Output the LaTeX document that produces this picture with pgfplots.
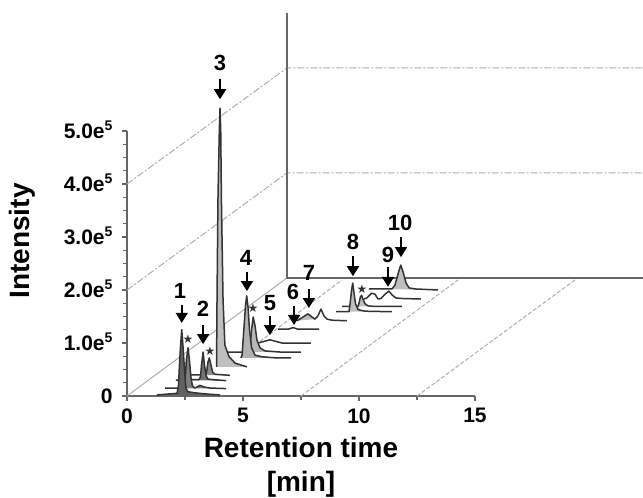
\documentclass[border=0pt]{standalone}
\usepackage{fontspec}
\setmainfont{Liberation Sans}
\newfontfamily\sym{DejaVu Sans}
\usepackage{pgfplots}
\pgfplotsset{compat=1.18}
\usetikzlibrary{arrows.meta}
\definecolor{tr}{gray}{0.2}
\definecolor{wall}{gray}{0.4}
\definecolor{gridc}{gray}{0.68}
\newcommand{\plab}[3]{\node[font=\bfseries\fontsize{22}{22}\selectfont,inner sep=0pt] at (axis cs:#1,#2) {#3};}
\newcommand{\parr}[3]{\draw[line width=1.7pt,black,-{Triangle[width=12pt,length=10pt]}] (axis cs:#1,#2) -- (axis cs:#1,#3);}
\newcommand{\pstar}[2]{\node[font=\sym\fontsize{12}{12}\selectfont,inner sep=0pt,text=black!80] at (axis cs:#1,#2) {★};}
\newcommand{\sfive}{\smash{\raisebox{8pt}{\fontsize{14}{14}\selectfont 5}}}
\begin{document}
\begin{tikzpicture}
\begin{axis}[
  at={(0pt,0pt)}, anchor=south west,
  scale only axis, width=348pt, height=265pt,
  xmin=0, xmax=15, ymin=0, ymax=5,
  clip=false,
  axis lines=left,
  axis line style={-, line width=1.8pt, draw=wall},
  tick style={line width=1.1pt, draw=wall},
  tick align=outside,
  major tick length=5pt, minor tick length=3.5pt,
  xtick={0,5,10,15}, xticklabels={0,5,10,15},
  ytick={0,1,2,3,4,5},
  yticklabels={0,1.0e\sfive,2.0e\sfive,3.0e\sfive,4.0e\sfive,5.0e\sfive},
  minor x tick num=1, minor y tick num=3,
  xticklabel style={font=\bfseries\fontsize{21}{21}\selectfont, yshift=-4pt},
  yticklabel style={font=\bfseries\fontsize{21}{21}\selectfont, xshift=-6pt},
  xlabel={Retention time\\{}[min]},
  xlabel style={at={(axis description cs:0.5,-0.270)}, anchor=center, align=center, font=\bfseries\fontsize{28}{34}\selectfont},
  ylabel={Intensity},
  ylabel style={at={(axis description cs:-0.302,0.585)}, anchor=center, font=\bfseries\fontsize{28}{28}\selectfont},
  trace/.style={draw=tr, line width=1.5pt, line join=round},
  dd/.style={draw=gridc, line width=1pt, dash pattern=on 7pt off 2pt on 2pt off 2pt},
  fd/.style={draw=gridc, line width=1pt, dash pattern=on 4pt off 2pt},
]
% back wall and floor
\addplot[dd] coordinates {(0,4) (6.90,6.19) (22.24,6.19)};
\addplot[dd] coordinates {(0,2) (6.90,4.21) (22.24,4.21)};
\addplot[fd] coordinates {(5.52,0.96) (9.27,2.19)};
\addplot[fd] coordinates {(7.5,0) (14.27,2.19)};
\addplot[fd] coordinates {(12.5,0) (19.31,2.19)};
\addplot[draw=gridc, line width=1pt] coordinates {(0,0) (6.90,2.23)};
\addplot[draw=wall, line width=1.5pt] coordinates {(6.90,7.23) (6.90,2.23) (22.24,2.23)};
% peak 10
\addplot[trace, fill=black!25] coordinates {(10.43,2.02)(11.42,2.02)(11.55,2.09)(11.68,2.30)(11.80,2.47)(11.90,2.34)(12.03,2.13)(12.16,2.04)(12.41,2.02)(13.41,2.00)};
% peak 9
\addplot[trace] coordinates {(10.22,1.83)(10.34,1.85)(10.54,1.94)(10.69,1.92)(10.82,1.83)(10.95,1.84)(11.12,1.92)(11.29,1.98)(11.42,1.91)(11.59,1.85)(11.85,1.84)(12.67,1.83)};
% star after peak 8
\addplot[trace, fill=black!25] coordinates {(9.27,1.69)(9.96,1.69)(10.00,1.75)(10.06,1.87)(10.11,1.90)(10.17,1.83)(10.26,1.74)(10.39,1.70)(10.69,1.69)(11.85,1.69)};
% peak 8
\addplot[trace, fill=black!25] coordinates {(9.01,1.59)(9.57,1.59)(9.61,1.72)(9.68,2.00)(9.73,2.13)(9.78,1.96)(9.85,1.74)(9.96,1.63)(10.26,1.60)(11.42,1.59)};
% peak 7
\addplot[fill=black!25, draw=none] coordinates {(7.33,1.42)(7.59,1.49)(7.80,1.55)(7.97,1.49)(8.10,1.45)};
\addplot[trace] coordinates {(7.33,1.42)(7.59,1.49)(7.80,1.55)(7.97,1.49)(8.10,1.45)(8.23,1.51)(8.36,1.64)(8.49,1.51)(8.62,1.45)(8.84,1.43)(9.48,1.42)};
% peak 6
\addplot[trace] coordinates {(6.51,1.26)(6.94,1.26)(7.16,1.29)(7.37,1.26)(8.28,1.26)};
% peak 5
\addplot[trace] coordinates {(5.65,1.00)(5.91,1.03)(6.16,1.06)(6.42,1.03)(6.68,1.00)(7.93,1.00)};
% star after peak 4
\addplot[trace, fill=black!28] coordinates {(4.35,0.83)(5.26,0.83)(5.30,0.91)(5.37,1.25)(5.44,1.49)(5.52,1.32)(5.60,1.06)(5.73,0.91)(5.95,0.85)(6.59,0.83)(7.50,0.83)};
% peak 4
\addplot[trace, fill=black!30] coordinates {(4.91,0.72)(4.96,0.77)(5.02,1.15)(5.11,1.72)(5.16,1.89)(5.22,1.66)(5.28,1.25)(5.37,0.91)(5.52,0.77)(5.82,0.74)(6.38,0.72)(7.07,0.72)};
% peak 3
\addplot[trace, fill=black!25] coordinates {(3.86,0.55)(3.88,1.81)(3.92,3.70)(3.98,5.02)(4.01,5.43)(4.04,5.02)(4.07,3.70)(4.14,1.81)(4.22,0.96)(4.40,0.74)(4.66,0.62)(5.17,0.55)};
% star after peak 2
\addplot[trace, fill=black!45] coordinates {(2.72,0.40)(3.36,0.40)(3.43,0.45)(3.49,0.64)(3.55,0.72)(3.62,0.58)(3.69,0.45)(3.79,0.41)(4.44,0.39)};
% peak 2
\addplot[trace, fill=black!55] coordinates {(2.11,0.30)(3.10,0.31)(3.17,0.36)(3.21,0.58)(3.28,0.83)(3.34,0.58)(3.41,0.38)(3.49,0.32)(3.66,0.31)(4.27,0.29)};
% star after peak 1
\addplot[trace, fill=black!50] coordinates {(1.64,0.15)(2.37,0.15)(2.48,0.19)(2.52,0.40)(2.56,0.68)(2.63,0.91)(2.69,0.68)(2.76,0.34)(2.82,0.19)(2.93,0.15)(3.15,0.20)(3.32,0.17)(3.58,0.15)(4.27,0.14)};
% peak 1
\addplot[trace, fill=black!62] coordinates {(1.29,0.02)(1.85,0.04)(2.16,0.05)(2.22,0.21)(2.26,0.58)(2.31,0.96)(2.36,1.25)(2.41,0.96)(2.48,0.49)(2.54,0.15)(2.63,0.08)(2.93,0.06)(3.36,0.04)(4.01,0.02)};
% annotations
\plab{2.28}{1.98}{1}\parr{2.36}{1.72}{1.38}
\plab{3.28}{1.64}{2}\parr{3.28}{1.34}{0.98}
\plab{4.01}{6.28}{3}\parr{4.01}{5.98}{5.60}
\plab{5.13}{2.60}{4}\parr{5.17}{2.34}{1.98}
\plab{6.16}{1.75}{5}\parr{6.16}{1.51}{1.15}
\plab{7.16}{1.96}{6}\parr{7.20}{1.70}{1.34}
\plab{7.84}{2.32}{7}\parr{7.84}{2.02}{1.66}
\plab{9.74}{2.91}{8}\parr{9.74}{2.64}{2.26}
\plab{11.25}{2.66}{9}\parr{11.25}{2.43}{2.06}
\plab{11.77}{3.26}{10}\parr{11.81}{3.00}{2.62}
\pstar{2.63}{1.08}\pstar{3.58}{0.85}\pstar{5.43}{1.66}\pstar{10.13}{2.02}
\end{axis}
\pgfresetboundingbox
\useasboundingbox (-127pt,-102pt) rectangle (516pt,396pt);
\end{tikzpicture}
\end{document}
